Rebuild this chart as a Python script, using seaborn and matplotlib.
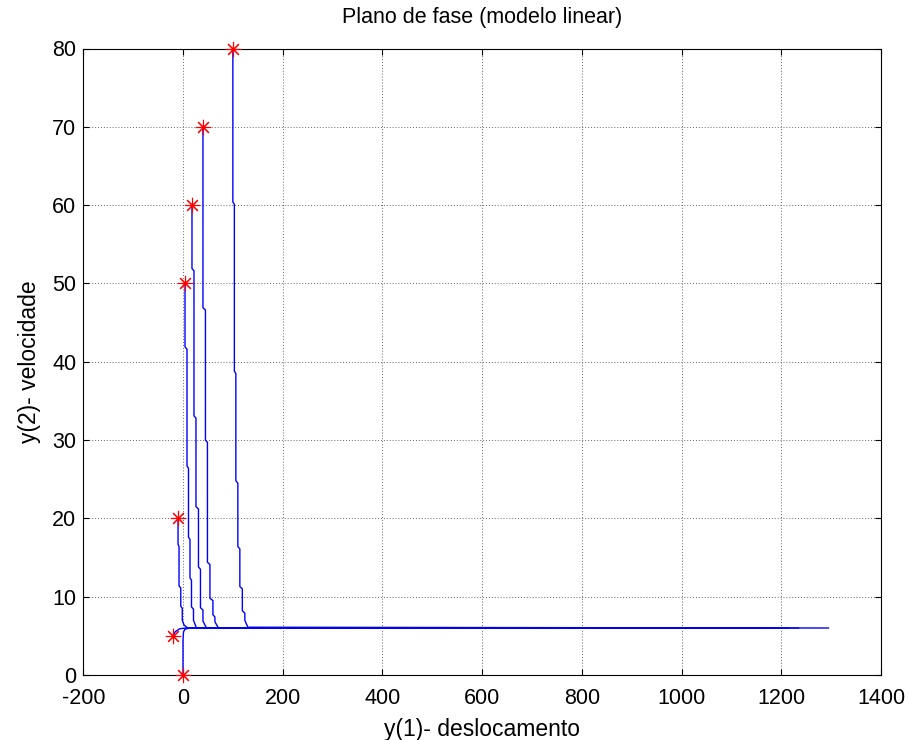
import numpy as np
import pandas as pd
import matplotlib
matplotlib.use("Agg")
import matplotlib.pyplot as plt
import seaborn as sns

# ---- data ----
x0s = [100, 40, 18, 4, -10, -20, 0]
v0s = [80, 70, 60, 50, 20, 5, 0]

t1_x = [100, 100, 103, 103, 106, 106, 110, 110, 114, 114, 119, 119, 124, 124, 130, 1295]
t1_v = [80, 60.4, 60.1, 38.8, 38.5, 24.8, 24.5, 16.4, 16.1, 11.3, 11.0, 8.2, 7.9, 7.0, 6.1, 6.0]

t2_x = [40, 40, 45, 45, 49, 49, 54, 54, 60, 60, 64, 64, 71, 1235]
t2_v = [70, 46.9, 46.6, 30.0, 29.7, 14.4, 14.1, 9.8, 9.5, 7.7, 7.4, 6.8, 6.0, 6.0]

t3_x = [18, 18, 22, 22, 26, 26, 31, 31, 35, 35, 40, 40, 47, 1215]
t3_v = [60, 51.9, 51.6, 33.1, 32.8, 21.5, 21.2, 13.8, 13.5, 8.6, 8.3, 6.9, 6.0, 6.0]

t4_x = [4, 4, 8, 8, 11, 11, 14, 14, 17, 17, 21, 21, 27, 1190]
t4_v = [50, 41.9, 41.6, 26.7, 26.4, 17.6, 17.3, 12.4, 12.1, 8.7, 8.4, 7.0, 6.0, 6.0]

t5_x = [-10, -10, -8, -8, -4.5, -4.5, -1.5, -1.5, 2, 9, 1160]
t5_v = [20, 16.7, 16.4, 11.4, 11.1, 8.8, 8.5, 7.0, 6.4, 6.0, 6.0]

t6_x = [-20, -16, -7, 6, 1145]
t6_v = [5, 5.5, 5.9, 6.0, 6.0]

t7_x = [0, 0, 1, 4, 13, 1120]
t7_v = [0, 4.5, 5.5, 5.85, 6.0, 6.0]

x_ticks = [-200, 0, 200, 400, 600, 800, 1000, 1200, 1400]
y_ticks = [0, 10, 20, 30, 40, 50, 60, 70, 80]

title = "Plano de fase (modelo linear)"
xlabel = "y(1)- deslocamento"
ylabel = "y(2)- velocidade"

# ---- build long table ----
frames = []
for i, (xs, vs) in enumerate([(t1_x, t1_v), (t2_x, t2_v), (t3_x, t3_v), (t4_x, t4_v),
                              (t5_x, t5_v), (t6_x, t6_v), (t7_x, t7_v)]):
    frames.append(pd.DataFrame({"x": xs, "v": vs, "traj": i, "k": range(len(xs))}))
df = pd.concat(frames, ignore_index=True)

sns.set_style("white")
plt.rcParams["font.family"] = ["Liberation Sans", "DejaVu Sans"]
plt.rcParams["text.color"] = "black"
plt.rcParams["axes.labelcolor"] = "black"

fig = plt.figure(figsize=(9.09, 7.40), dpi=100)
ax = fig.add_axes([83.3 / 909, 1 - 675 / 740, (881 - 83.3) / 909, (675 - 48.5) / 740])

sns.lineplot(data=df, x="x", y="v", units="traj", estimator=None, sort=False,
             color="#0000ff", linewidth=1.0, ax=ax, legend=False)
ax.plot(x0s, v0s, linestyle="none", marker=(8, 2, 0), color="red",
        markersize=11, markeredgewidth=0.8, zorder=5, clip_on=False)

ax.set_xlim(-200, 1400)
ax.set_ylim(0, 80)
ax.set_xticks(x_ticks)
ax.set_yticks(y_ticks)
ax.set_xticklabels([str(t) for t in x_ticks])
ax.set_yticklabels([str(t) for t in y_ticks])

ax.grid(True, color="0.4", linestyle=(0, (1, 2)), linewidth=0.7)
ax.set_axisbelow(True)
for s in ax.spines.values():
    s.set_color("black")
    s.set_linewidth(0.8)
    s.set_visible(True)

ax.tick_params(axis="both", which="major", direction="in", length=4, width=0.8,
               top=True, right=True, bottom=True, left=True, labelsize=15.5, colors="black")
ax.tick_params(axis="x", pad=9)
ax.tick_params(axis="y", pad=5)

ax.set_xlabel(xlabel, fontsize=16.5, labelpad=7, color="black")
ax.set_ylabel(ylabel, fontsize=16.5, labelpad=8, color="black")
ax.set_title(title, fontsize=15.5, pad=18, color="black")

fig.savefig("out.png", dpi=100)
